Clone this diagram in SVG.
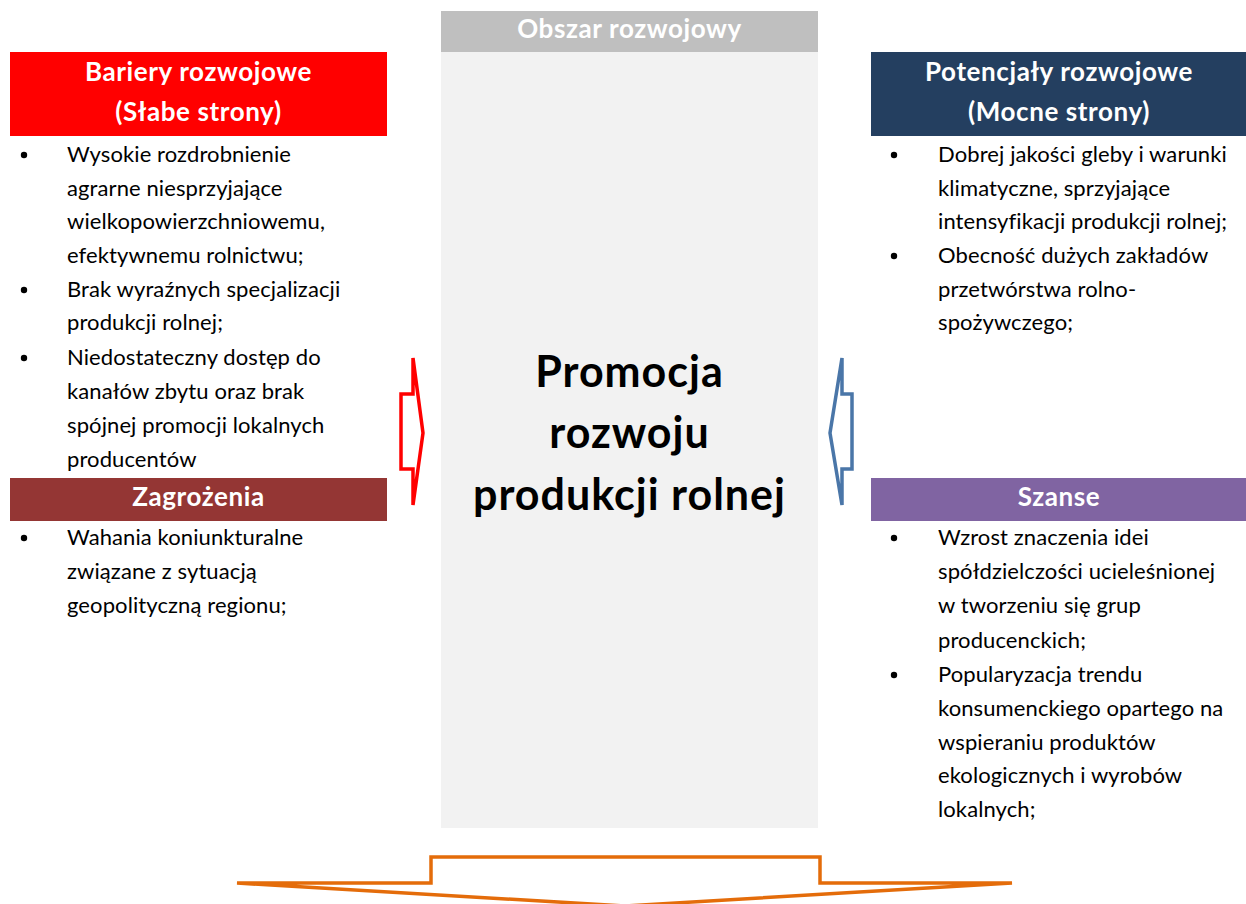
<svg xmlns="http://www.w3.org/2000/svg" width="1246" height="904" viewBox="0 0 1246 904">
<style>
.hdr{font-family:Lato,"Open Sans","Noto Sans",sans-serif;font-weight:700;font-size:26px;letter-spacing:0.6px;fill:#ffffff;text-anchor:middle}
.txt{font-family:Lato,"Open Sans","Noto Sans",sans-serif;font-size:22px;letter-spacing:0.1px;fill:#000000}
.big{font-family:Lato,"Open Sans","Noto Sans",sans-serif;font-weight:700;font-size:43px;letter-spacing:1px;fill:#000000;text-anchor:middle}
.dot{fill:#000000}
.conn{fill:none;stroke-width:3.5;stroke-linejoin:miter}
</style>
<rect width="1246" height="904" fill="#ffffff"/>
<g id="center">
<rect x="441" y="11" width="377" height="817" fill="#f2f2f2"/>
<rect x="441" y="11" width="377" height="41" fill="#bfbfbf"/>
<text class="hdr" x="629.5" y="38">Obszar rozwojowy</text>
<text class="big" x="629.5" y="387">Promocja</text>
<text class="big" x="629.5" y="448">rozwoju</text>
<text class="big" x="629.5" y="510">produkcji rolnej</text>
</g>
<g id="bariery">
<rect x="10" y="52" width="377" height="84" fill="#ff0000"/>
<text class="hdr" x="198.5" y="81">Bariery rozwojowe</text>
<text class="hdr" x="198.5" y="121">(Słabe strony)</text>
<circle class="dot" cx="24" cy="155" r="3.2"/>
<circle class="dot" cx="24" cy="290" r="3.2"/>
<circle class="dot" cx="24" cy="358" r="3.2"/>
<text class="txt" x="67" y="162">Wysokie rozdrobnienie</text>
<text class="txt" x="67" y="196">agrarne niesprzyjające</text>
<text class="txt" x="67" y="229">wielkopowierzchniowemu,</text>
<text class="txt" x="67" y="263">efektywnemu rolnictwu;</text>
<text class="txt" x="67" y="297">Brak wyraźnych specjalizacji</text>
<text class="txt" x="67" y="330">produkcji rolnej;</text>
<text class="txt" x="67" y="365">Niedostateczny dostęp do</text>
<text class="txt" x="67" y="399">kanałów zbytu oraz brak</text>
<text class="txt" x="67" y="433">spójnej promocji lokalnych</text>
<text class="txt" x="67" y="467">producentów</text>
</g>
<g id="zagrozenia">
<rect x="10" y="478" width="377" height="43" fill="#943634"/>
<text class="hdr" x="198.5" y="506">Zagrożenia</text>
<circle class="dot" cx="24" cy="538" r="3.2"/>
<text class="txt" x="67" y="545">Wahania koniunkturalne</text>
<text class="txt" x="67" y="579">związane z sytuacją</text>
<text class="txt" x="67" y="613">geopolityczną regionu;</text>
</g>
<g id="potencjaly">
<rect x="871" y="52" width="375" height="84" fill="#243f60"/>
<text class="hdr" x="1059" y="81">Potencjały rozwojowe</text>
<text class="hdr" x="1059" y="121">(Mocne strony)</text>
<circle class="dot" cx="894" cy="155" r="3.2"/>
<circle class="dot" cx="894" cy="256" r="3.2"/>
<text class="txt" x="938" y="162">Dobrej jakości gleby i warunki</text>
<text class="txt" x="938" y="196">klimatyczne, sprzyjające</text>
<text class="txt" x="938" y="229">intensyfikacji produkcji rolnej;</text>
<text class="txt" x="938" y="263">Obecność dużych zakładów</text>
<text class="txt" x="938" y="297">przetwórstwa rolno-</text>
<text class="txt" x="938" y="330">spożywczego;</text>
</g>
<g id="szanse">
<rect x="871" y="478" width="375" height="43" fill="#8064a2"/>
<text class="hdr" x="1059" y="506">Szanse</text>
<circle class="dot" cx="894" cy="538" r="3.2"/>
<circle class="dot" cx="894" cy="675" r="3.2"/>
<text class="txt" x="938" y="545">Wzrost znaczenia idei</text>
<text class="txt" x="938" y="579">spółdzielczości ucieleśnionej</text>
<text class="txt" x="938" y="613">w tworzeniu się grup</text>
<text class="txt" x="938" y="648">producenckich;</text>
<text class="txt" x="938" y="682">Popularyzacja trendu</text>
<text class="txt" x="938" y="716">konsumenckiego opartego na</text>
<text class="txt" x="938" y="750">wspieraniu produktów</text>
<text class="txt" x="938" y="783">ekologicznych i wyrobów</text>
<text class="txt" x="938" y="817">lokalnych;</text>
</g>
<g id="connectors">
<polygon class="conn" stroke="#ff0000" points="413,358 423,433 413,505 413,469 401,469 401,394 413,394"/>
<polygon class="conn" stroke="#4a76a8" points="842,358 830,433 842,505 842,469 852,469 852,394 842,394"/>
<polygon class="conn" stroke="#e46c0a" points="237,883 431,883 431,857 820,857 820,883 1012,883 625,906"/>
</g>
</svg>
